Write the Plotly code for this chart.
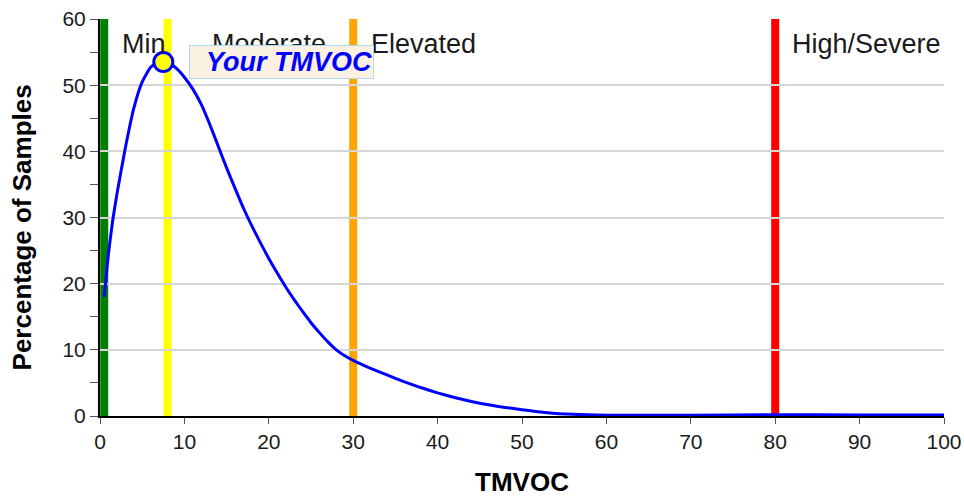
import plotly.graph_objects as go

# Distribution curve (TMVOC vs percentage of samples)
curve_x = [0.5, 1, 1.5, 2, 3, 4, 5, 6, 7, 8, 9, 10, 11, 12, 13, 14, 15, 16, 17, 18, 19,
           20, 21, 22, 23, 24, 25, 26, 27, 28, 29, 30, 31, 32, 34, 36, 38, 40, 42, 44, 46,
           48, 50, 53, 56, 60, 70, 80, 90, 100]
curve_y = [18, 24.5, 29.5, 33.5, 40.5, 46.5, 50.5, 52.7, 53.6, 53.5, 52.6, 51.2, 49.4,
           47.1, 44.1, 40.8, 37.5, 34.4, 31.4, 28.7, 26.2, 23.8, 21.6, 19.5, 17.6, 15.8, 14.1,
           12.6, 11.2, 10.0, 9.1, 8.4, 7.8, 7.25, 6.2, 5.2, 4.3, 3.5, 2.8, 2.2, 1.7,
           1.3, 0.95, 0.5, 0.25, 0.12, 0.1, 0.2, 0.15, 0.15]

# Category threshold lines
threshold_x = [0.5, 8, 30, 80]
threshold_colors = ["#008000", "#ffff00", "#ffa500", "#ff0000"]
category_labels = ["Min", "Moderate", "Elevated", "High/Severe"]
category_label_x = [2.35, 13.0, 31.9, 81.8]
label_y = 56.2

# Your result
your_x = [7.5]
your_y = [53.5]
your_label = "Your TMVOC"
your_label_x = 10.5

x_title = "TMVOC"
y_title = "Percentage of Samples"

font_family = "Liberation Sans, Arial, sans-serif"

fig = go.Figure()

fig.add_trace(go.Scatter(
    x=curve_x, y=curve_y, mode="lines",
    line=dict(color="#0000ff", width=3, shape="spline", smoothing=0.5),
    hoverinfo="skip", showlegend=False,
))

fig.add_trace(go.Scatter(
    x=your_x, y=your_y, mode="markers",
    marker=dict(size=19, color="#ffff00", line=dict(color="#0000ff", width=3)),
    showlegend=False,
))

for xv, col in zip(threshold_x, threshold_colors):
    fig.add_shape(type="line", xref="x", yref="y", x0=xv, x1=xv, y0=0, y1=60,
                  line=dict(color=col, width=8), layer="below")

for lab, lx in zip(category_labels, category_label_x):
    fig.add_annotation(x=lx, y=label_y, xref="x", yref="y", text=lab, showarrow=False,
                       xanchor="left", yanchor="middle",
                       font=dict(family=font_family, size=27, color="#1a1a1a"))

fig.add_annotation(x=your_label_x, y=your_y[0], xref="x", yref="y",
                   text="&nbsp;&nbsp;<b><i>" + your_label + "</i></b>", showarrow=False,
                   xanchor="left", yanchor="middle",
                   font=dict(family=font_family, size=27, color="#0000ff"),
                   bgcolor="#fbf1e2", bordercolor="#b4d9ee", borderwidth=1, borderpad=1)

# Y axis title as rotated annotation (slightly below plot centre, as in reference)
fig.add_annotation(x=-0.0924, y=0.475, xref="paper", yref="paper",
                   text="<b>" + y_title + "</b>", textangle=-90, showarrow=False,
                   xanchor="center", yanchor="middle",
                   font=dict(family=font_family, size=26, color="#000000"))

fig.update_layout(
    width=964, height=497,
    margin=dict(l=100, r=20, t=19, b=81),
    paper_bgcolor="white", plot_bgcolor="white",
    font=dict(family=font_family, color="#1a1a1a"),
    xaxis=dict(
        range=[0, 100], tickvals=list(range(0, 101, 10)),
        showgrid=False, zeroline=False, automargin=False,
        showline=True, linecolor="#000000", linewidth=2,
        ticks="outside", ticklen=6, tickcolor="#555555",
        tickfont=dict(size=21, color="#1a1a1a"),
        title=dict(text="<b>" + x_title + "</b>", font=dict(size=26, color="#000000"), standoff=27),
    ),
    yaxis=dict(
        range=[0, 60], tickvals=list(range(0, 61, 10)),
        showgrid=True, gridcolor="#d6d6d6", gridwidth=2, zeroline=False, automargin=False,
        showline=True, linecolor="#000000", linewidth=2,
        ticks="outside", ticklen=8, tickcolor="#555555",
        minor=dict(dtick=5, ticks="outside", ticklen=8, tickcolor="#555555", showgrid=False),
        tickfont=dict(size=21, color="#1a1a1a"),
    ),
)

fig.write_html("out.html", config={"displayModeBar": False},
               post_script="document.body.style.margin='0';")
